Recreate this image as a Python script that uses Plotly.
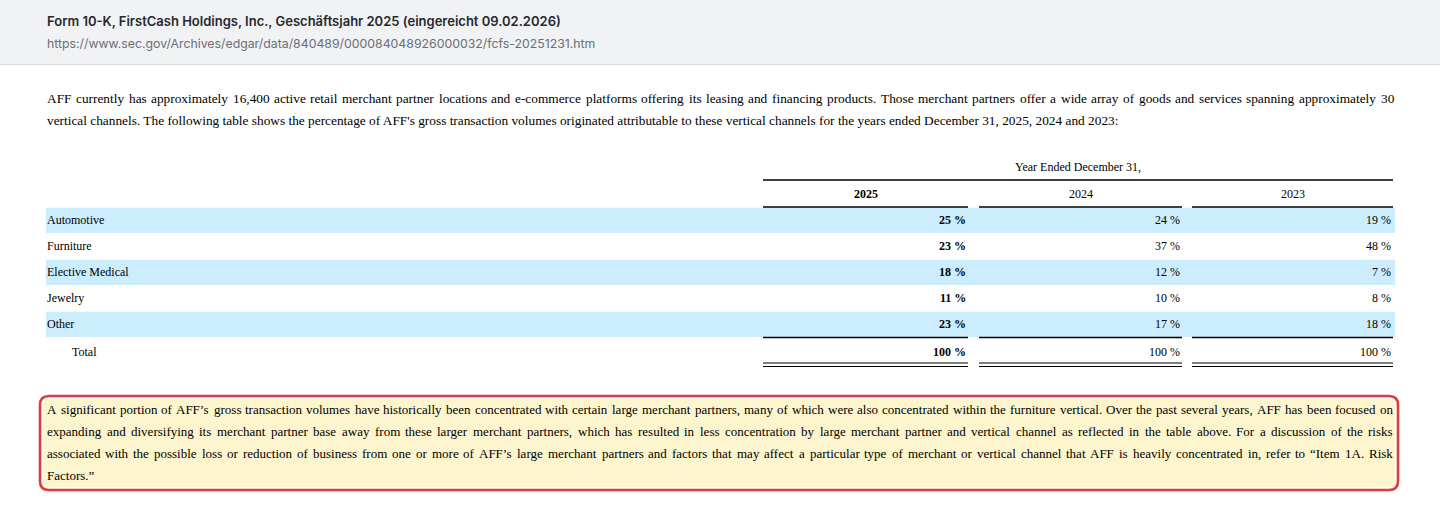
import plotly.graph_objects as go

# ---------------- data ----------------
title_text = "Form 10-K, FirstCash Holdings, Inc., Geschäftsjahr 2025 (eingereicht 09.02.2026)"
url_text = "https://www.sec.gov/Archives/edgar/data/840489/000084048926000032/fcfs-20251231.htm"

intro_lines = [
    "AFF currently has approximately 16,400 active retail merchant partner locations and e-commerce platforms offering its leasing and financing products. Those merchant partners offer a wide array of goods and services spanning approximately 30",
    "vertical channels. The following table shows the percentage of AFF's gross transaction volumes originated attributable to these vertical channels for the years ended December 31, 2025, 2024 and 2023:",
]

note_lines = [
    "A significant portion of AFF\u2019s gross transaction volumes have historically been concentrated with certain large merchant partners, many of which were also concentrated within the furniture vertical. Over the past several years, AFF has been focused on",
    "expanding and diversifying its merchant partner base away from these larger merchant partners, which has resulted in less concentration by large merchant partner and vertical channel as reflected in the table above. For a discussion of the risks",
    "associated with the possible loss or reduction of business from one or more of AFF\u2019s large merchant partners and factors that may affect a particular type of merchant or vertical channel that AFF is heavily concentrated in, refer to \u201cItem 1A. Risk",
    "Factors.\u201d",
]

group_header = "Year Ended December 31,"
years = ["2025", "2024", "2023"]
categories = ["Automotive", "Furniture", "Elective Medical", "Jewelry", "Other"]
share_2025 = [25, 23, 18, 11, 23]
share_2024 = [24, 37, 12, 10, 17]
share_2023 = [19, 48, 7, 8, 18]
total_label = "Total"
totals = [100, 100, 100]

# ---------------- styles / layout ----------------
W, H = 1440, 520
SERIF = "Liberation Serif, Times New Roman, serif"
SANS = "Inter, Liberation Sans, Arial, sans-serif"
BAND = "#ccedfd"
BODY = 13.33
NOTE = 13

# Times-Roman advance widths (per 1000 em)
TW = {' ': 250, '!': 333, '"': 408, '#': 500, '$': 500, '%': 833, '&': 778, "'": 180,
      '(': 333, ')': 333, '*': 500, '+': 564, ',': 250, '-': 333, '.': 250, '/': 278,
      ':': 278, ';': 278, '?': 444, '\u2019': 333, '\u201c': 444, '\u201d': 444}
for d in "0123456789":
    TW[d] = 500
TW.update(dict(zip("ABCDEFGHIJKLMNOPQRSTUVWXYZ",
                   [722, 667, 667, 722, 611, 556, 722, 722, 333, 389, 722, 611, 889, 722, 722,
                    556, 722, 667, 556, 611, 722, 722, 944, 722, 722, 611])))
TW.update(dict(zip("abcdefghijklmnopqrstuvwxyz",
                   [444, 500, 444, 500, 444, 333, 500, 500, 278, 278, 500, 278, 778, 500, 500,
                    500, 500, 333, 389, 278, 500, 500, 722, 500, 500, 444])))


def text_w(s, size):
    return sum(TW.get(c, 500) for c in s) * size / 1000.0


fig = go.Figure()
fig.add_trace(go.Scatter(x=[0, W], y=[0, H], mode="markers", marker=dict(opacity=0),
                         hoverinfo="skip", showlegend=False))

annots = []
shapes = []


def ann(text, x, y, size, color="#000", xanchor="left", family=SERIF, weight=None):
    font = dict(family=family, size=size, color=color)
    if weight is not None:
        font["weight"] = weight
    annots.append(dict(text=text, x=x, y=y, xref="x", yref="y", showarrow=False,
                       xanchor=xanchor, yanchor="middle", borderpad=0, borderwidth=0,
                       font=font))


def justified(line, x0, x1, y, size):
    words = line.split(" ")
    widths = [text_w(w, size) for w in words]
    gap = (x1 - x0 - sum(widths)) / (len(words) - 1)
    cx = x0
    for w, wd in zip(words, widths):
        ann(w, cx, y, size)
        cx += wd + gap


def paragraph(lines, x0, x1, y0, step, size):
    for i, line in enumerate(lines):
        y = y0 + i * step
        if i < len(lines) - 1:
            justified(line, x0, x1, y, size)
        else:
            ann(line, x0, y, size)


def hline(x0, x1, y, width=1.2, color="#000"):
    shapes.append(dict(type="line", xref="x", yref="y", x0=x0, x1=x1, y0=y, y1=y,
                       line=dict(color=color, width=width)))


def rrect(x0, y0, x1, y1, r, fill, line_color, line_width):
    path = (f"M{x0+r},{y0} L{x1-r},{y0} Q{x1},{y0} {x1},{y0+r} L{x1},{y1-r} Q{x1},{y1} {x1-r},{y1} "
            f"L{x0+r},{y1} Q{x0},{y1} {x0},{y1-r} L{x0},{y0+r} Q{x0},{y0} {x0+r},{y0} Z")
    shapes.append(dict(type="path", xref="x", yref="y", path=path, fillcolor=fill,
                       line=dict(color=line_color, width=line_width), layer="below"))


# header bar
shapes.append(dict(type="rect", xref="x", yref="y", x0=0, x1=W, y0=0, y1=64,
                   fillcolor="#f1f2f4", line=dict(width=0), layer="below"))
hline(0, W, 64.5, width=1.2, color="#d3d9e0")
ann(title_text, 47, 21, 13, color="#24292f", family=SANS, weight=600)
ann(url_text, 47, 43, 12.3, color="#6a6f75", family=SANS)

# intro paragraph
LEFT, RIGHT = 47, 1394
paragraph(intro_lines, LEFT, RIGHT, 98, 22, BODY)

# table
COLS = [(763, 968), (979, 1182), (1192, 1393)]
ROW_TOP, ROW_H = 207, 26
TSIZE = 12

ann(group_header, (COLS[0][0] + COLS[-1][1]) / 2, 167, TSIZE, xanchor="center")
hline(COLS[0][0], COLS[-1][1], 180, width=1.3)
for j, yr in enumerate(years):
    c0, c1 = COLS[j]
    ann(("<b>%s</b>" % yr) if j == 0 else yr, (c0 + c1) / 2, 194, TSIZE, xanchor="center")
    hline(c0, c1, 207, width=1.3)

cols_values = [share_2025, share_2024, share_2023]
for i, cat in enumerate(categories):
    top = ROW_TOP + i * ROW_H
    yc = top + ROW_H / 2
    if i % 2 == 0:
        shapes.append(dict(type="rect", xref="x", yref="y", x0=46, x1=1395, y0=top + 0.7, y1=top + ROW_H,
                           fillcolor=BAND, line=dict(width=0), layer="below"))
    ann(cat, LEFT, yc, TSIZE)
    for j, vals in enumerate(cols_values):
        txt = f"{vals[i]} %"
        ann(("<b>%s</b>" % txt) if j == 0 else txt, COLS[j][1] - 2, yc, TSIZE, xanchor="right")

tot_top = ROW_TOP + len(categories) * ROW_H
for j, c in enumerate(COLS):
    hline(c[0], c[1], tot_top + 0.5, width=1.3)
    txt = f"{totals[j]} %"
    ann(("<b>%s</b>" % txt) if j == 0 else txt, c[1] - 2, tot_top + 15, TSIZE, xanchor="right")
    hline(c[0], c[1], tot_top + 26, width=1.2)
    hline(c[0], c[1], tot_top + 29.5, width=1.2)
ann(total_label, 72, tot_top + 15, TSIZE)

# highlighted note box
rrect(40, 396, 1398, 490, 9, "#ffffff", "#e03b3b", 2.6)
rrect(43, 399, 1395, 487, 6, "#fdf5cd", "rgba(0,0,0,0)", 0)
paragraph(note_lines, LEFT, 1393, 409, 22, NOTE)

fig.update_layout(
    width=W, height=H, margin=dict(l=0, r=0, t=0, b=0),
    paper_bgcolor="#ffffff", plot_bgcolor="#ffffff",
    xaxis=dict(range=[0, W], visible=False, fixedrange=True),
    yaxis=dict(range=[H, 0], visible=False, fixedrange=True),
    annotations=annots, shapes=shapes, showlegend=False, hovermode=False,
)

fig.write_html("out.html", config={"displayModeBar": False},
               post_script="document.body.style.margin='0';document.body.style.overflow='hidden';")
